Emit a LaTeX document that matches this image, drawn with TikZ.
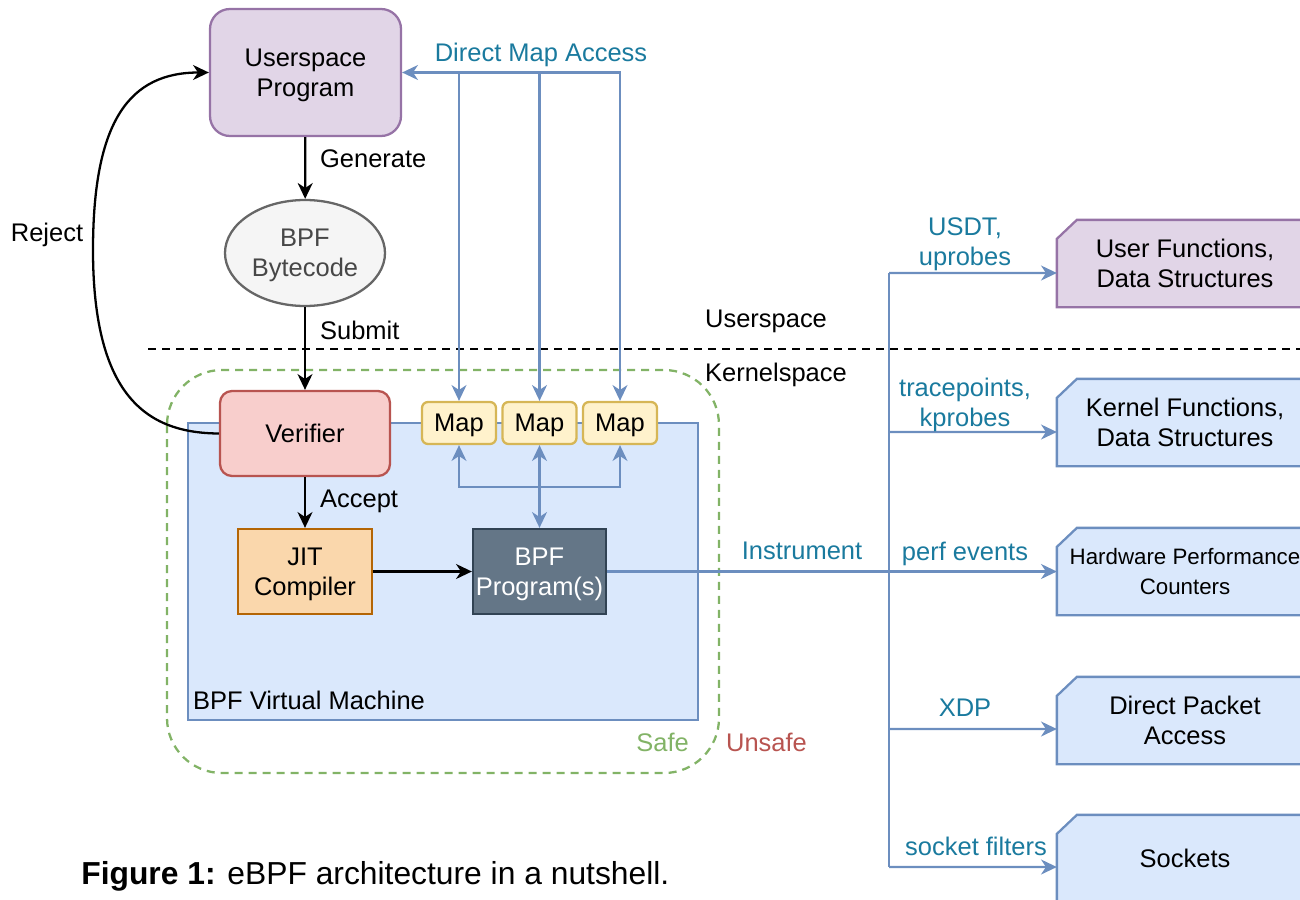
\documentclass[tikz,border=0pt]{standalone}
\usepackage{fontspec}
\setmainfont{Liberation Sans}
\usetikzlibrary{arrows.meta,shapes.geometric,backgrounds}
\newdimen\pxu \pxu=0.02cm
\definecolor{purpF}{HTML}{E1D5E7}\definecolor{purpD}{HTML}{9673A6}
\definecolor{grayF}{HTML}{F5F5F5}\definecolor{grayD}{HTML}{666666}
\definecolor{redF}{HTML}{F8CECC}\definecolor{redD}{HTML}{B85450}
\definecolor{yelF}{HTML}{FFF2CC}\definecolor{yelD}{HTML}{D6B656}
\definecolor{orgF}{HTML}{FAD7AC}\definecolor{orgD}{HTML}{B46504}
\definecolor{darkF}{HTML}{647687}\definecolor{darkD}{HTML}{314354}
\definecolor{bluF}{HTML}{DAE8FC}\definecolor{bluD}{HTML}{6C8EBF}
\definecolor{grnD}{HTML}{82B366}
\definecolor{lblue}{HTML}{1A7A9E}
\tikzset{
  base/.style={font=\fontsize{14.5}{17}\selectfont, align=center, inner sep=0pt,
    text depth=0pt, line width=1.3pt},
  userbox/.style={base, draw=purpD, fill=purpF, rounded corners=20\pxu, minimum width=191\pxu, minimum height=127\pxu},
  codebox/.style={base, ellipse, draw=grayD, fill=grayF, text=grayD!70!black, minimum width=160\pxu, minimum height=106\pxu},
  verbox/.style={base, draw=redD, fill=redF, rounded corners=12\pxu, minimum width=170\pxu, minimum height=85\pxu},
  mapbox/.style={base, draw=yelD, fill=yelF, rounded corners=6\pxu, minimum width=74\pxu, minimum height=42\pxu},
  jitbox/.style={base, draw=orgD, fill=orgF, minimum width=134\pxu, minimum height=85\pxu},
  progbox/.style={base, draw=darkD, fill=darkF, text=white, minimum width=133\pxu, minimum height=85\pxu},
  vmbox/.style={base, draw=bluD, fill=bluF, minimum width=510\pxu, minimum height=297\pxu},
  target/.style={base, minimum width=254\pxu, minimum height=85\pxu},
  blk/.style={line width=1.3pt, -{Stealth[length=9pt,width=8.5pt,inset=2.8pt]}},
  blu/.style={line width=1.3pt, draw=bluD, -{Stealth[length=9pt,width=8.5pt,inset=2.8pt]}},
  blu2/.style={blu, {Stealth[length=9pt,width=8.5pt,inset=2.8pt]}-{Stealth[length=9pt,width=8.5pt,inset=2.8pt]}},
  lbl/.style={base, text=black},
  elbl/.style={base, text=lblue},
}
% card outline with a cut top-left corner, drawn behind a named node
\newcommand\cardbox[3]{%
  \filldraw[line width=1.3pt, fill=#2, draw=#3]
    ([xshift=20\pxu]#1.north west) -- (#1.north east) -- (#1.south east)
    -- (#1.south west) -- ([yshift=-19\pxu]#1.north west) -- cycle;}
\begin{document}
\begin{tikzpicture}[x=0.02cm, y=-0.02cm]
\useasboundingbox (0,0) rectangle (1300,899);

% safe region and the BPF virtual machine
\draw[grnD, line width=1.3pt, dash pattern=on 8\pxu off 6\pxu, rounded corners=55\pxu]
  (167,370) rectangle (719,773);
\node[vmbox] (vm) at (443,571.5) {};
\node[lbl, anchor=west] (vmlbl) at (192,700) {BPF Virtual Machine};

% userspace / kernelspace boundary
\draw[line width=1.3pt, dash pattern=on 8\pxu off 6\pxu] (148,349) -- (1300,349);
\node[lbl, anchor=west] (uspace) at (704,319) {Userspace};
\node[lbl, anchor=west] (kspace) at (704,372) {Kernelspace};

% main flow
\node[userbox] (up) at (305.5,72.5) {Userspace\\Program};
\node[codebox] (bc) at (305,253) {BPF\\Bytecode};
\node[verbox] (ver) at (305,433.5) {Verifier};
\node[mapbox] (m1) at (459,423) {Map};
\node[mapbox] (m2) at (539.5,423) {Map};
\node[mapbox] (m3) at (620,423) {Map};
\node[jitbox] (jit) at (305,571.5) {JIT\\Compiler};
\node[progbox] (prog) at (539.5,571.5) {BPF\\Program(s)};

\draw[blk] (up) -- (bc);
\node[lbl, anchor=west] (gen) at (319,159) {Generate};
\draw[blk] (bc) -- (ver);
\node[lbl, anchor=west] (sub) at (319,330) {Submit};
\draw[blk] (ver) -- (jit);
\node[lbl, anchor=west] (acc) at (319,499) {Accept};
\draw[blk] (jit) -- (prog);

% rejection loop back to userspace
\draw[blk] (ver.west) .. controls (150,433) and (93,400) .. (93,250)
  .. controls (93,120) and (130,72.5) .. (up.west);
\node[lbl] (rej) at (47,232) {Reject};

% map access from userspace
\draw[blu2] (up.east) -- (m3.north |- up.east) -- (m3.north);
\draw[blu] (m1.north |- up.east) -- (m1.north);
\draw[blu] (m2.north |- up.east) -- (m2.north);
\node[elbl] (dma) at (541,52) {Direct Map Access};

% map access from the program
\coordinate (bus) at (539.5,487);
\draw[blu2] (m1.south) -- (m1.south |- bus) -- (m3.south |- bus) -- (m3.south);
\draw[blu2] (m2.south) -- (prog.north);

% instrumentation targets
\node[target] (uf) at (1185,263.5) {User Functions,\\Data Structures};
\node[target] (kf) at (1185,422.5) {Kernel Functions,\\Data Structures};
\node[target, font=\fontsize{12.7}{17}\selectfont] (hw) at (1185,571.5) {Hardware Performance\\Counters};
\node[target] (dp) at (1185,720.5) {Direct Packet\\Access};
\node[target] (so) at (1185,858.5) {Sockets};
\begin{scope}[on background layer]
  \cardbox{uf}{purpF}{purpD}
  \cardbox{kf}{bluF}{bluD}
  \cardbox{hw}{bluF}{bluD}
  \cardbox{dp}{bluF}{bluD}
  \cardbox{so}{bluF}{bluD}
\end{scope}

\coordinate (ttop) at (889,273);
\coordinate (tbot) at (889,867);
\draw[blu] (prog.east) -- (hw.west);
\draw[line width=1.3pt, bluD] (ttop) -- (tbot);
\draw[blu] (ttop) -- ([yshift=-9.5\pxu]uf.west);
\draw[blu] (ttop |- 0,432) -- ([yshift=-9.5\pxu]kf.west);
\draw[blu] (ttop |- 0,729) -- ([yshift=-8.5\pxu]dp.west);
\draw[blu] (tbot) -- ([yshift=-8.5\pxu]so.west);

\node[elbl] (l1) at (965,242) {USDT,\\uprobes};
\node[elbl] (l2) at (965,402) {tracepoints,\\kprobes};
\node[elbl] (l3) at (965,551) {perf events};
\node[elbl] (l4) at (965,708) {XDP};
\node[elbl] (l5) at (976,846) {socket filters};
\node[elbl] (l6) at (802,551) {Instrument};

\node[base, text=grnD, anchor=east] (safe) at (690,742) {Safe};
\node[base, text=redD, anchor=west] (unsafe) at (725,742) {Unsafe};

% caption
\node[anchor=west, inner sep=0pt, font=\fontsize{18.1}{22}\selectfont] (cap) at (81,876)
  {\textbf{Figure 1:} eBPF architecture in a nutshell.};
\end{tikzpicture}
\end{document}
